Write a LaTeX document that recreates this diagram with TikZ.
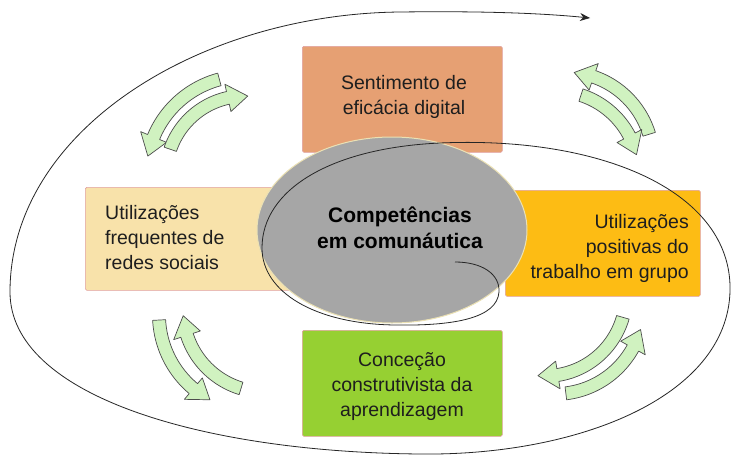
\documentclass[tikz,border=0pt]{standalone}
\usepackage{fontspec}
\setmainfont{Liberation Sans}
\usetikzlibrary{arrows.meta,shapes.geometric}
\definecolor{boxtop}{RGB}{230,160,115}
\definecolor{boxleft}{RGB}{248,226,170}
\definecolor{boxright}{RGB}{253,188,20}
\definecolor{boxbottom}{RGB}{150,208,50}
\definecolor{boxedge}{RGB}{225,160,160}
\definecolor{coregray}{RGB}{166,166,166}
\definecolor{coreedge}{RGB}{235,225,180}
\definecolor{arrowfill}{RGB}{208,242,192}
\definecolor{txt}{RGB}{30,30,30}
\tikzset{
  box/.style={draw=boxedge, line width=0.6pt, rounded corners=1.5pt, inner sep=0pt, anchor=north west},
  lbl/.style={font=\fontsize{19.5}{25}\selectfont, text=txt, inner sep=0pt},
  corelbl/.style={font=\bfseries\fontsize{21}{26}\selectfont, text=black, inner sep=0pt, align=center},
  garrow/.style={draw=black!70, line width=0.7pt, fill=arrowfill, line join=round},
  spiral/.style={draw=black!85, line width=0.8pt},
}
% cx cy r tailangle tipangle
\newcommand\greenarrow[5]{%
  \pgfmathsetmacro\gab{#5-((#5>#4)?1:-1)*20/#3*57.2958}%
  \filldraw[garrow] plot[domain=#4:\gab,samples=30] ({#1+(#3+6.5)*cos(\x)},{#2+(#3+6.5)*sin(\x)})
    -- ({#1+(#3+14)*cos(\gab)},{#2+(#3+14)*sin(\gab)})
    -- ({#1+#3*cos(#5)},{#2+#3*sin(#5)})
    -- ({#1+(#3-14)*cos(\gab)},{#2+(#3-14)*sin(\gab)})
    -- plot[domain=\gab:#4,samples=30] ({#1+(#3-6.5)*cos(\x)},{#2+(#3-6.5)*sin(\x)}) -- cycle;}
\begin{document}
\begin{tikzpicture}[x=1pt,y=-1pt]
\useasboundingbox[fill=white] (0,0) rectangle (733,455);
% boxes
\node[box, fill=boxtop, minimum width=200pt, minimum height=106pt] (top) at (302,46) {};
\node[box, fill=boxleft, minimum width=215pt, minimum height=103pt] (left) at (85,187) {};
\node[box, fill=boxright, minimum width=195pt, minimum height=106pt] (right) at (505,190) {};
\node[box, fill=boxbottom, minimum width=200pt, minimum height=106pt] (bottom) at (302,330) {};
% core ellipse
\node[ellipse, fill=coregray, draw=coreedge, line width=1pt, minimum width=270pt, minimum height=186pt, inner sep=0pt] (core) at (392,230) {};
% green arrows
\greenarrow{245}{175}{99}{255}{191}
\greenarrow{245}{175}{79}{199}{272}
\greenarrow{565}{160}{88}{343}{276}
\greenarrow{555}{175}{84}{288}{346}
\greenarrow{265}{310}{82}{107}{176}
\greenarrow{255}{315}{96}{177}{118}
\greenarrow{545}{295}{81}{16}{95}
\greenarrow{555}{305}{89}{83}{16}
% spiral
\coordinate (sIn) at (455,262);
\coordinate (sOut) at (590,18);
\draw[spiral, -{Stealth[length=10pt,width=8pt]}] (sIn)
  .. controls (482,262) and (500,274) .. (499,292)
  .. controls (497,318) and (455,326) .. (395,325)
  .. controls (315,324) and (262,292) .. (262,248)
  .. controls (262,190) and (330,148) .. (440,143)
  .. controls (600,136) and (727,190) .. (730,285)
  .. controls (733,395) and (580,456) .. (420,454)
  .. controls (200,452) and (10,395) .. (10,292)
  .. controls (10,130) and (200,14) .. (400,12)
  .. controls (480,11) and (540,13) .. (sOut);
% texts
\node[lbl, align=center] (ttop) at (404,97) {Sentimento de\\eficácia digital};
\node[lbl, align=left, anchor=west] (tleft) at (105,238) {Utilizações\\frequentes de\\redes sociais};
\node[lbl, align=right, anchor=east] (tright) at (689,248) {Utilizações\\positivas do\\trabalho em grupo};
\node[lbl, align=center] (tbottom) at (402,387) {Conceção\\construtivista da\\aprendizagem};
\node[corelbl] (tcore) at (400,228) {Competências\\em comunáutica};
\end{tikzpicture}
\end{document}
